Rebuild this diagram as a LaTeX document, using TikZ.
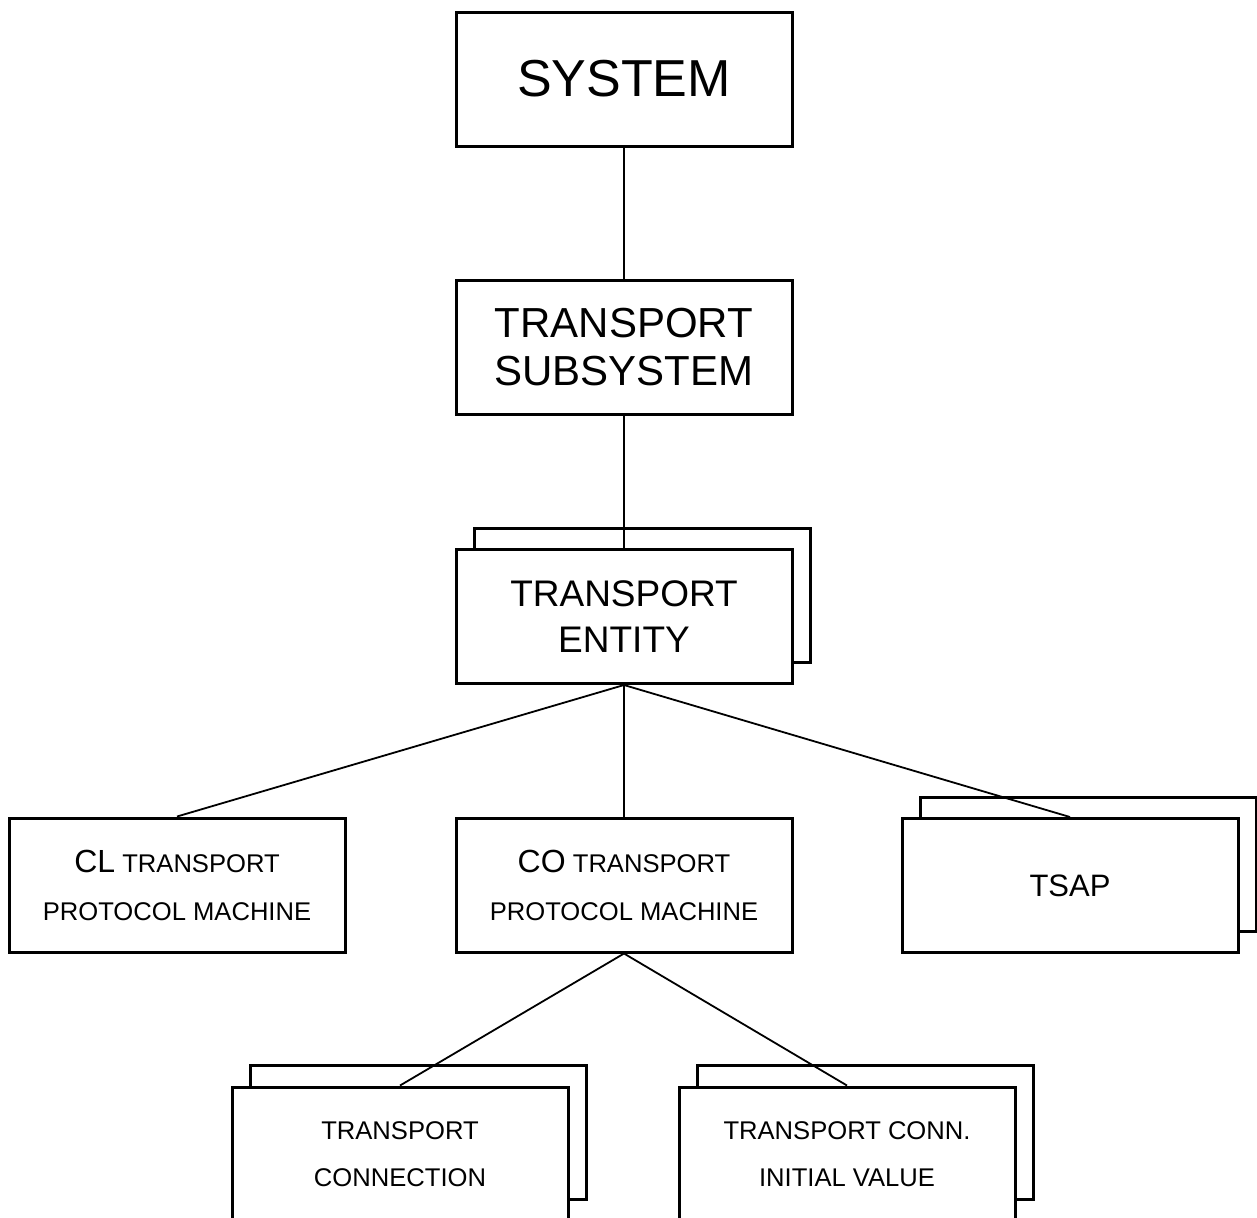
\documentclass[tikz,border=0pt]{standalone}
\usepackage{fontspec}
\setmainfont{Liberation Sans}

\begin{document}
\begin{tikzpicture}[
    x=0.5pt, y=-0.5pt,
    box/.style={draw, line width=1.5pt, fill=white, align=center, inner sep=0pt,
                minimum width=168pt, minimum height=67pt},
    link/.style={line width=0.9pt}
]
\useasboundingbox (0,0) rectangle (1257,1217);

% --- back copies of the multiple boxes ---
\node[box] (entity_b) at (642,595) {};
\node[box] (tsap_b) at (1088,864) {};
\node[box] (conn_b) at (418,1132) {};
\node[box] (init_b) at (865,1132) {};

% --- upper levels ---
\node[box, font=\fontsize{26}{30}\selectfont] (system) at (624,79) {SYSTEM};
\node[box, font=\fontsize{21}{24}\selectfont] (subsys) at (624,347.5) {TRANSPORT\\SUBSYSTEM};
\node[box, font=\fontsize{18.5}{23}\selectfont] (entity) at (624,616.5) {TRANSPORT\\ENTITY};

% --- protocol machines and TSAP ---
\node[box, font=\fontsize{12.8}{24}\selectfont] (cl) at (177,885)
    {{\fontsize{16}{24}\selectfont CL} TRANSPORT\\PROTOCOL MACHINE};
\node[box, font=\fontsize{12.8}{24}\selectfont] (co) at (624,885)
    {{\fontsize{16}{24}\selectfont CO} TRANSPORT\\PROTOCOL MACHINE};
\node[box, font=\fontsize{15.5}{20}\selectfont] (tsap) at (1070,885.5) {TSAP};

% --- connections ---
\node[box, font=\fontsize{12.8}{23.5}\selectfont] (conn) at (400,1154) {TRANSPORT\\CONNECTION};
\node[box, font=\fontsize{12.8}{23.5}\selectfont] (init) at (847,1154) {TRANSPORT CONN.\\INITIAL VALUE};

% --- tree lines ---
\draw[link] (system) -- (subsys);
\draw[link] (subsys) -- (entity);
\draw[link] (entity.south) -- (cl.north);
\draw[link] (entity.south) -- (co.north);
\draw[link] (entity.south) -- (tsap.north);
\draw[link] (co.south) -- (conn.north);
\draw[link] (co.south) -- (init.north);

\end{tikzpicture}
\end{document}
